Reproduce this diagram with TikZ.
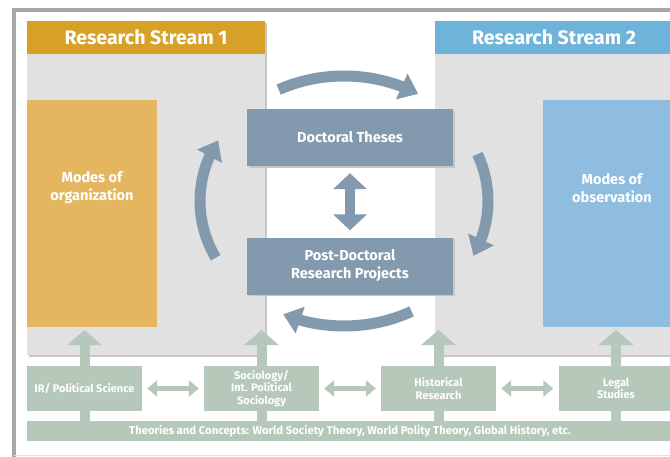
\documentclass[tikz,border=0pt]{standalone}
\usepackage{fontspec}
\setmainfont{Fira Sans}
\usetikzlibrary{arrows.meta,bending}

\definecolor{streamgold}{HTML}{D7A128}
\definecolor{orggold}{HTML}{E3B65F}
\definecolor{streamblue}{HTML}{6DB3DA}
\definecolor{obsblue}{HTML}{8FBDE0}
\definecolor{panelgray}{HTML}{E1E1E1}
\definecolor{slate}{HTML}{8399AD}
\definecolor{sage}{HTML}{B5C8BA}
\definecolor{framegray}{HTML}{A8A8A8}

\tikzset{
  box/.style={rectangle,inner sep=0pt,align=center,text=white,font=\bfseries},
  shadowed/.style={preaction={fill=black!22,transform canvas={xshift=1.5pt,yshift=-1.5pt}}},
  bigfont/.style={font=\bfseries\fontsize{19.5}{22}\selectfont},
  midfont/.style={font=\bfseries\fontsize{14.5}{18}\selectfont},
  smallfont/.style={font=\bfseries\fontsize{11}{12.5}\selectfont},
  barfont/.style={font=\bfseries\fontsize{11.3}{13}\selectfont}
}

\begin{document}
\begin{tikzpicture}[x=1pt,y=-1pt]
    \useasboundingbox (0,0) rectangle (670,456);
    \clip (0,0) rectangle (670,456);
    % frame
    \draw[framegray,line width=4pt] (700,9.5) -- (14,9.5) -- (14,460);
    \draw[black!12,line width=1pt] (14,455) -- (700,455);
    % streams
    \begin{scope}[every node/.style={box,minimum width=238pt}]
        \node[fill=panelgray,minimum height=334pt,shadowed] (p1) at (146,188) {};
        \node[fill=panelgray,minimum height=334pt,shadowed] (p2) at (554,188) {};
        \node[fill=streamgold,minimum height=33pt,bigfont] (s1) at (146,37.5) {Research Stream 1};
        \node[fill=streamblue,minimum height=33pt,bigfont] (s2) at (554,37.5) {Research Stream 2};
    \end{scope}
    \node[box,fill=orggold,minimum width=130pt,minimum height=227pt,
        label={[box,midfont,yshift=25.5pt]center:{Modes of\\organization}}] (org) at (92,213.5) {};
    \node[box,fill=obsblue,minimum width=138pt,minimum height=227pt,
        label={[box,midfont,yshift=25.5pt]center:{Modes of\\observation}}] (obs) at (612,213.5) {};
    % cycle
    \coordinate (c) at (344,201);
    \begin{scope}[slate,line width=11pt,-{Triangle[width=27pt,length=18pt,flex]}]
        \draw (c) ++(-117:144 and 125) arc[start angle=-117,end angle=-59,x radius=144,y radius=125];
        \draw (c) ++(-22:144 and 125) arc[start angle=-22,end angle=26,x radius=144,y radius=125];
        \draw (c) ++(62:144 and 125) arc[start angle=62,end angle=115,x radius=144,y radius=125];
        \draw (c) ++(-207:144 and 125) arc[start angle=-207,end angle=-151,x radius=144,y radius=125];
    \end{scope}
    \begin{scope}[every node/.style={box,fill=slate,minimum width=206pt,minimum height=57pt,midfont,shadowed}]
        \node (doc) at (350,137.5) {Doctoral Theses};
        \node (post) at (350,266) {Post-Doctoral\\Research Projects};
    \end{scope}
    \path[slate,line width=10pt] (doc) edge[{Triangle[width=33pt,length=16pt]}-{Triangle[width=33pt,length=16pt]},
        shorten <=7pt,shorten >=7pt] (post);
    % disciplines
    \begin{scope}[every edge/.style={draw,sage,line width=10pt,-{Triangle[width=34pt,length=15pt]},shorten >=3pt}]
        \path
            (84.5,431) edge (84.5,327)
            (261.5,431) edge (261.5,327)
            (438.5,431) edge (438.5,327)
            (616,431) edge (616,327);
    \end{scope}
    \node[box,fill=sage,minimum width=646pt,minimum height=20pt,barfont] (bar) at (350,431)
        {Theories and Concepts: World Society Theory, World Polity Theory, Global History, etc.};
    \begin{scope}[every node/.style={box,fill=sage,minimum width=115pt,minimum height=45pt,smallfont}]
        \node (ir) at (84.5,388.5) {IR/ Political Science};
        \node (soc) at (261.5,388.5) {Sociology/\\Int. Political\\Sociology};
        \node (hist) at (438.5,388.5) {Historical\\Research};
        \node (legal) at (616,388.5) {Legal\\Studies};
    \end{scope}
    \begin{scope}[every edge/.style={draw,sage,line width=4.5pt,
            {Triangle[width=16pt,length=10pt]}-{Triangle[width=16pt,length=10pt]},shorten <=5pt,shorten >=5pt}]
        \path
            (ir) edge (soc)
            (soc) edge (hist)
            (hist) edge (legal);
    \end{scope}
\end{tikzpicture}
\end{document}
